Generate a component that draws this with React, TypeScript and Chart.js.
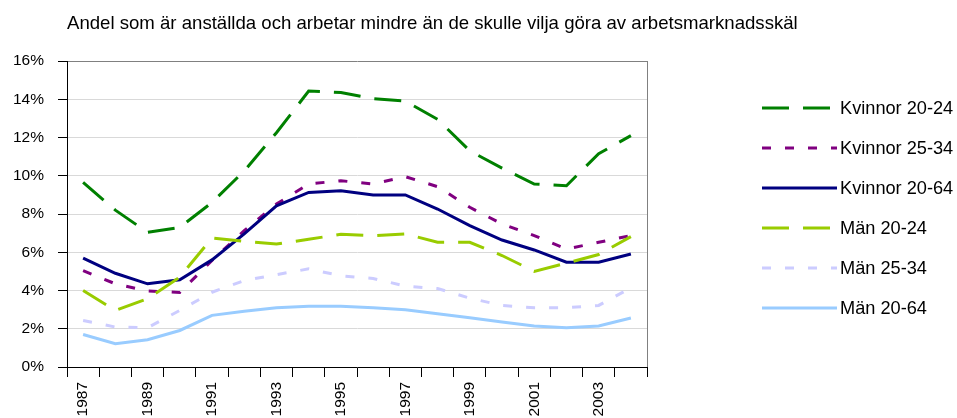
import React, { useEffect, useRef } from 'react';
import { Chart, registerables } from 'chart.js';

Chart.register(...registerables);

const FONT = '"Liberation Sans", Arial, sans-serif';

const TITLE = 'Andel som är anställda och arbetar mindre än de skulle vilja göra av arbetsmarknadsskäl';

const years = ['1987', '1988', '1989', '1990', '1991', '1992', '1993', '1994', '1995', '1996', '1997', '1998', '1999', '2000', '2001', '2002', '2003', '2004'];

const yTicks = [0, 2, 4, 6, 8, 10, 12, 14, 16];

const seriesLabels = ['Kvinnor 20-24', 'Kvinnor 25-34', 'Kvinnor 20-64', 'Män 20-24', 'Män 25-34', 'Män 20-64'];

const kvinnor2024 = [9.65, 8.2, 7.04, 7.3, 8.6, 10.25, 12.25, 14.43, 14.35, 14.03, 13.9, 12.95, 11.3, 10.4, 9.57, 9.48, 11.15, 12.1];
const kvinnor2534 = [5.04, 4.35, 3.97, 3.9, 5.57, 7.13, 8.52, 9.57, 9.74, 9.57, 9.95, 9.43, 8.35, 7.48, 6.87, 6.17, 6.52, 6.87];
const kvinnor2064 = [5.69, 4.9, 4.35, 4.56, 5.6, 6.96, 8.43, 9.13, 9.22, 9.0, 9.0, 8.26, 7.39, 6.64, 6.12, 5.48, 5.48, 5.91];
const man2024 = [4.0, 2.96, 3.57, 4.7, 6.75, 6.57, 6.43, 6.68, 6.94, 6.87, 6.96, 6.52, 6.52, 5.83, 5.0, 5.43, 5.88, 6.82];
const man2534 = [2.43, 2.09, 2.05, 2.96, 3.91, 4.52, 4.83, 5.13, 4.77, 4.63, 4.23, 4.1, 3.6, 3.22, 3.1, 3.1, 3.22, 4.14];
const man2064 = [1.7, 1.22, 1.43, 1.91, 2.7, 2.92, 3.1, 3.18, 3.18, 3.1, 2.99, 2.78, 2.57, 2.35, 2.14, 2.05, 2.14, 2.56];

const seriesValues = [kvinnor2024, kvinnor2534, kvinnor2064, man2024, man2534, man2064];
const seriesColors = ['#008000', '#800080', '#000080', '#99cc00', '#ccccff', '#99ccff'];
const seriesDash: number[][] = [[27, 14], [9, 14], [], [27, 14], [9, 14], []];

const titleLegendPlugin = {
  id: 'titleLegend',
  afterDraw(chart: any) {
    const ctx = chart.ctx;
    ctx.save();
    ctx.fillStyle = '#000';
    ctx.font = `18.6px ${FONT}`;
    ctx.textAlign = 'left';
    ctx.textBaseline = 'alphabetic';
    ctx.fillText(TITLE, 67, 28.5);

    const x0 = 762;
    const x1 = 837;
    const yStart = 108;
    const step = 40;
    chart.data.datasets.forEach((ds: any, i: number) => {
      const y = yStart + i * step;
      ctx.beginPath();
      ctx.strokeStyle = ds.borderColor;
      ctx.lineWidth = ds.borderWidth;
      ctx.setLineDash(ds.borderDash || []);
      ctx.moveTo(x0, y);
      ctx.lineTo(x1, y);
      ctx.stroke();
      ctx.setLineDash([]);
      ctx.fillStyle = '#000';
      ctx.font = `18.2px ${FONT}`;
      ctx.textBaseline = 'middle';
      ctx.fillText(ds.label, x1 + 3, y + 1);
    });
    ctx.restore();
  },
};

export default function App() {
  const canvasRef = useRef<HTMLCanvasElement | null>(null);

  useEffect(() => {
    const canvas = canvasRef.current;
    if (!canvas) return;
    const chart = new Chart(canvas, {
      type: 'line',
      data: {
        labels: years,
        datasets: seriesLabels.map((label, i) => ({
          label,
          data: seriesValues[i],
          borderColor: seriesColors[i],
          backgroundColor: seriesColors[i],
          borderWidth: 3,
          borderDash: seriesDash[i],
          pointRadius: 0,
          pointHoverRadius: 0,
          fill: false,
          tension: 0,
          order: seriesLabels.length - i,
        })),
      },
      options: {
        responsive: false,
        animation: false,
        devicePixelRatio: 1,
        layout: { padding: { left: 0, right: 310, top: 61, bottom: 0 } },
        plugins: {
          legend: { display: false },
          title: { display: false },
          tooltip: { enabled: false },
        },
        scales: {
          x: {
            type: 'category',
            offset: true,
            grid: {
              offset: true,
              drawOnChartArea: true,
              color: (c: any) => (c.type === 'scale' ? '#808080' : 'rgba(0,0,0,0)'),
              tickColor: '#000',
              tickLength: 10,
            },
            border: { color: '#000', width: 1 },
            ticks: {
              autoSkip: false,
              maxRotation: 90,
              minRotation: 90,
              padding: 5,
              color: '#000',
              font: { family: FONT, size: 15.5 },
              callback: (_v: any, idx: number) => (idx % 2 === 0 ? years[idx] : ''),
            },
            afterFit: (scale: any) => {
              scale.height = 51;
            },
          },
          y: {
            min: yTicks[0],
            max: yTicks[yTicks.length - 1],
            grid: {
              color: (c: any) => (c.tick && c.tick.value === 16 ? '#808080' : '#d9d9d9'),
              tickColor: '#000',
              tickLength: 9,
            },
            border: { color: '#000', width: 1 },
            afterBuildTicks: (scale: any) => {
              scale.ticks = yTicks.map((v) => ({ value: v }));
            },
            ticks: {
              padding: 14,
              color: '#000',
              font: { family: FONT, size: 15.5 },
              callback: (v: any) => `${v}%`,
            },
            afterFit: (scale: any) => {
              scale.width = 67;
            },
          },
        },
      },
      plugins: [titleLegendPlugin],
    });
    return () => chart.destroy();
  }, []);

  return (
    <div style={{ position: 'fixed', left: 0, top: 0, width: 957, height: 418, background: '#fff' }}>
      <canvas ref={canvasRef} width={957} height={418} style={{ display: 'block' }} />
    </div>
  );
}
